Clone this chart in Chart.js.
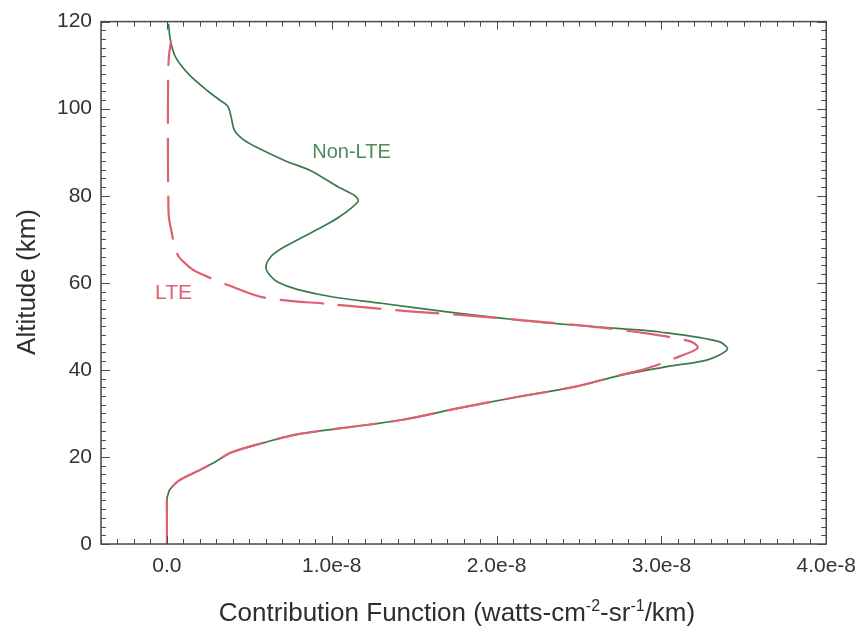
<!DOCTYPE html>
<html><head><meta charset="utf-8">
<script src="https://cdn.jsdelivr.net/npm/chart.js@4.4.0/dist/chart.umd.min.js"></script>
<style>html,body{margin:0;padding:0;background:#fff}canvas{display:block}</style>
</head><body>
<canvas id="c" width="866" height="635"></canvas>
<script>
// Values of the contribution function are in units of 1e-8 watts-cm^-2-sr^-1/km
const altNonLTE = [0, 5, 10.5, 11.5, 12.3, 14.5, 16.8, 18.8, 21, 23.3, 25.2, 27.4, 28.6, 31.2, 33.6, 36.1, 38.9, 40.9, 42.3, 44.7, 46.5, 48.7, 49.4, 50.9, 52, 53.3, 55.3, 56.8, 58.5, 60, 61.5, 63.5, 66, 68, 70, 72, 75, 78.7, 80, 82, 85.8, 88, 91, 93, 95, 98, 100.5, 102, 104, 108, 112, 116, 119.5];
const cfNonLTE  = [0, 0, 0, 0.008, 0.014, 0.07, 0.19, 0.29, 0.39, 0.59, 0.79, 1.22, 1.44, 1.77, 2.10, 2.47, 2.77, 3.06, 3.28, 3.40, 3.35, 2.99, 2.77, 2.27, 2.0, 1.7, 1.3, 1.0, 0.79, 0.68, 0.63, 0.60, 0.63, 0.70, 0.80, 0.90, 1.04, 1.16, 1.14, 1.04, 0.87, 0.72, 0.55, 0.46, 0.41, 0.39, 0.37, 0.32, 0.25, 0.13, 0.05, 0.02, 0.01];
const altLTE = [0, 5, 10.5, 11.5, 12.3, 14.5, 16.8, 18.8, 21, 23.3, 25.2, 27.4, 28.6, 31.2, 33.6, 36.1, 38.9, 40.2, 41.6, 43.1, 45, 46.5, 48.7, 50.2, 51.5, 52.5, 53.4, 54.3, 55.1, 56.6, 59.2, 62.7, 64.5, 66.1, 68.5, 71.4, 75, 80, 90, 100, 108, 112, 115.5];
const cfLTE  = [0, 0, 0, 0.008, 0.014, 0.07, 0.19, 0.29, 0.39, 0.59, 0.79, 1.22, 1.44, 1.77, 2.10, 2.47, 2.76, 2.90, 3.01, 3.11, 3.22, 3.18, 2.85, 2.51, 2.13, 1.82, 1.49, 1.22, 0.99, 0.59, 0.39, 0.17, 0.11, 0.07, 0.045, 0.03, 0.012, 0.008, 0.006, 0.006, 0.008, 0.012, 0.025];

const xTickValues = [0, 1, 2, 3, 4];
const xTickLabels = ['0.0', '1.0e-8', '2.0e-8', '3.0e-8', '4.0e-8'];
const yTickValues = [0, 20, 40, 60, 80, 100, 120];
const yTickLabels = ['0', '20', '40', '60', '80', '100', '120'];
const seriesNames = ['Non-LTE', 'LTE'];
const xTitleParts = [['Contribution Function (watts-cm', false], ['-2', true], ['-sr', false], ['-1', true], ['/km)', false]];
const yTitle = 'Altitude (km)';

const GREEN = '#3b7a4c';
const RED = '#e0606f';
const FONT = '"Liberation Sans", Arial, sans-serif';

const toPts = (alts, vals) => alts.map((a, i) => ({x: vals[i], y: a}));

const frame = {
  id: 'frame',
  afterDatasetsDraw(chart) {
    const {ctx, chartArea: ca, scales: {x, y}} = chart;
    ctx.save();
    ctx.strokeStyle = '#4a4a4a';
    ctx.lineWidth = 1;
    const yMinor = 2, xMinor = 0.1;
    for (let v = y.min; v <= y.max + 1e-9; v += yMinor) {
      const py = Math.round(y.getPixelForValue(v)) + 0.5;
      const major = Math.abs(v % 20) < 1e-6;
      const len = major ? 9 : 5;
      ctx.beginPath();
      ctx.moveTo(ca.left, py); ctx.lineTo(ca.left + len, py);
      ctx.moveTo(ca.right, py); ctx.lineTo(ca.right - len, py);
      ctx.stroke();
    }
    for (let k = Math.round(x.min / xMinor); k <= Math.round(x.max / xMinor); k++) {
      const v = k * xMinor;
      const px = Math.round(x.getPixelForValue(v)) + 0.5;
      const major = k % 10 === 0;
      const len = major ? 8 : 5;
      ctx.beginPath();
      ctx.moveTo(px, ca.bottom); ctx.lineTo(px, ca.bottom - len);
      ctx.moveTo(px, ca.top); ctx.lineTo(px, ca.top + len);
      ctx.stroke();
    }
    ctx.lineWidth = 1.5;
    ctx.strokeRect(ca.left, ca.top, ca.right - ca.left, ca.bottom - ca.top);

    // curve labels (anchored in data coordinates)
    ctx.textAlign = 'center';
    ctx.textBaseline = 'middle';
    ctx.font = '20px ' + FONT;
    ctx.fillStyle = '#4b8a5b';
    ctx.fillText(seriesNames[0], x.getPixelForValue(1.12), y.getPixelForValue(90));
    ctx.font = '21px ' + FONT;
    ctx.fillStyle = RED;
    ctx.fillText(seriesNames[1], x.getPixelForValue(0.04), y.getPixelForValue(57.5));

    // x title with superscripts
    const big = '26px ' + FONT, small = '16px ' + FONT;
    let total = 0;
    xTitleParts.forEach(([t, sup]) => { ctx.font = sup ? small : big; total += ctx.measureText(t).width; });
    let cx = 457 - total / 2;
    const base = 621;
    ctx.fillStyle = '#2e2e2e';
    ctx.textAlign = 'left';
    ctx.textBaseline = 'alphabetic';
    xTitleParts.forEach(([t, sup]) => {
      ctx.font = sup ? small : big;
      ctx.fillText(t, cx, sup ? base - 10 : base);
      cx += ctx.measureText(t).width;
    });
    // y title
    ctx.save();
    ctx.translate(35, 282);
    ctx.rotate(-Math.PI / 2);
    ctx.font = big;
    ctx.textAlign = 'center';
    ctx.textBaseline = 'alphabetic';
    ctx.fillText(yTitle, 0, 0);
    ctx.restore();
    ctx.restore();
  }
};

const bg = {
  id: 'bg',
  beforeDraw(chart) {
    const {ctx} = chart;
    ctx.save(); ctx.fillStyle = '#fff'; ctx.fillRect(0, 0, chart.width, chart.height); ctx.restore();
  }
};

new Chart(document.getElementById('c'), {
  type: 'scatter',
  data: {
    datasets: [
      { label: seriesNames[1], data: toPts(altLTE, cfLTE), showLine: true, borderColor: RED, borderWidth: 2.2,
        borderDash: [44, 14], pointRadius: 0, tension: 0.3, order: 1 },
      { label: seriesNames[0], data: toPts(altNonLTE, cfNonLTE), showLine: true, borderColor: GREEN, borderWidth: 1.7,
        pointRadius: 0, tension: 0.3, order: 2 }
    ]
  },
  options: {
    responsive: false,
    animation: false,
    events: [],
    layout: { padding: { top: 16, right: 32, left: 0, bottom: 0 } },
    plugins: { legend: { display: false }, tooltip: { enabled: false } },
    scales: {
      x: {
        type: 'linear', min: -0.4, max: 4.0,
        afterFit: s => { s.height = 91; },
        afterBuildTicks: s => { s.ticks = xTickValues.map(v => ({value: v})); },
        grid: { display: false, drawTicks: false },
        border: { display: false },
        ticks: { padding: 10, color: '#333', font: { size: 21, family: FONT },
                 maxRotation: 0, autoSkip: false,
                 callback: v => xTickLabels[xTickValues.indexOf(v)] }
      },
      y: {
        type: 'linear', min: 0, max: 120,
        afterFit: s => { s.width = 101; },
        afterBuildTicks: s => { s.ticks = yTickValues.map(v => ({value: v})); },
        grid: { display: false, drawTicks: false },
        border: { display: false },
        ticks: { padding: 9, color: '#333', font: { size: 21, family: FONT },
                 autoSkip: false,
                 callback: v => yTickLabels[yTickValues.indexOf(v)] }
      }
    }
  },
  plugins: [bg, frame]
});
</script>
</body></html>
